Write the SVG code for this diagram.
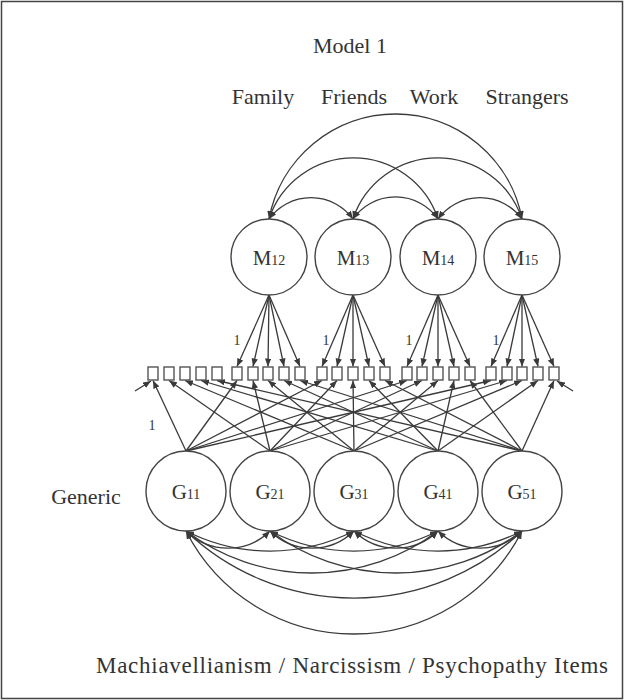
<svg xmlns="http://www.w3.org/2000/svg" width="624" height="700" viewBox="0 0 624 700">
  <style>
    .t { font-family: "Liberation Serif", "Times New Roman", serif; fill: #333; }
    .node { fill: #fff; stroke: #444; stroke-width: 1.4; }
    .item { fill: #fff; stroke: #555; stroke-width: 1.4; }
    .arr { fill: none; stroke: #3a3a3a; stroke-width: 1.3; marker-end: url(#ah); }
    .cov { fill: none; stroke: #3a3a3a; stroke-width: 1.3; marker-start: url(#ah); marker-end: url(#ah); }
  </style>
  <defs>
    <marker id="ah" viewBox="0 0 10 8" refX="10" refY="4" markerWidth="8" markerHeight="6.4" orient="auto-start-reverse" markerUnits="userSpaceOnUse">
      <path d="M0,0 L10,4 L0,8 z" fill="#3a3a3a"/>
    </marker>
  </defs>

  <rect x="1.5" y="1.5" width="621" height="697" fill="#fff" stroke="#444" stroke-width="1.5"/>

  <!-- titles -->
  <text class="t" x="350" y="53" font-size="22" text-anchor="middle">Model 1</text>
  <text class="t" x="263" y="104" font-size="22" text-anchor="middle">Family</text>
  <text class="t" x="354" y="104" font-size="22" text-anchor="middle">Friends</text>
  <text class="t" x="434" y="104" font-size="22" text-anchor="middle">Work</text>
  <text class="t" x="527" y="104" font-size="22" text-anchor="middle">Strangers</text>
  <text class="t" x="86" y="504" font-size="22" text-anchor="middle">Generic</text>
  <text class="t" x="96" y="673" font-size="23" textLength="512" lengthAdjust="spacing">Machiavellianism / Narcissism / Psychopathy Items</text>

  <!-- connectors -->
  <g id="connectors">
    <!-- covariances among method factors -->
    <path class="cov" d="M269,219 A52,52 0 0 1 353,219"/>
    <path class="cov" d="M353,219 A52,52 0 0 1 438,219"/>
    <path class="cov" d="M438,219 A52,52 0 0 1 522,219"/>
    <path class="cov" d="M269,219 A89,89 0 0 1 438,219"/>
    <path class="cov" d="M353,219 A89,89 0 0 1 522,219"/>
    <path class="cov" d="M269,219 A128.7,128.7 0 0 1 522,219"/>

    <!-- method loadings -->
    <path class="arr" d="M269,295 L237,366.5"/>
    <path class="arr" d="M269,295 L253,366.5"/>
    <path class="arr" d="M269,295 L268,366.5"/>
    <path class="arr" d="M269,295 L284,366.5"/>
    <path class="arr" d="M269,295 L300,366.5"/>
    <path class="arr" d="M353,295 L322,366.5"/>
    <path class="arr" d="M353,295 L337,366.5"/>
    <path class="arr" d="M353,295 L353,366.5"/>
    <path class="arr" d="M353,295 L369,366.5"/>
    <path class="arr" d="M353,295 L385,366.5"/>
    <path class="arr" d="M438,295 L407,366.5"/>
    <path class="arr" d="M438,295 L422,366.5"/>
    <path class="arr" d="M438,295 L438,366.5"/>
    <path class="arr" d="M438,295 L454,366.5"/>
    <path class="arr" d="M438,295 L470,366.5"/>
    <path class="arr" d="M522,295 L491,366.5"/>
    <path class="arr" d="M522,295 L507,366.5"/>
    <path class="arr" d="M522,295 L522,366.5"/>
    <path class="arr" d="M522,295 L538,366.5"/>
    <path class="arr" d="M522,295 L554,366.5"/>

    <!-- generic loadings -->
    <path class="arr" d="M186,451 L153,380.5"/>
    <path class="arr" d="M186,451 L237,380.5"/>
    <path class="arr" d="M186,451 L322,380.5"/>
    <path class="arr" d="M186,451 L407,380.5"/>
    <path class="arr" d="M186,451 L491,380.5"/>
    <path class="arr" d="M270,451 L169,380.5"/>
    <path class="arr" d="M270,451 L253,380.5"/>
    <path class="arr" d="M270,451 L337,380.5"/>
    <path class="arr" d="M270,451 L422,380.5"/>
    <path class="arr" d="M270,451 L507,380.5"/>
    <path class="arr" d="M354,451 L185,380.5"/>
    <path class="arr" d="M354,451 L268,380.5"/>
    <path class="arr" d="M354,451 L353,380.5"/>
    <path class="arr" d="M354,451 L438,380.5"/>
    <path class="arr" d="M354,451 L522,380.5"/>
    <path class="arr" d="M438,451 L201,380.5"/>
    <path class="arr" d="M438,451 L284,380.5"/>
    <path class="arr" d="M438,451 L369,380.5"/>
    <path class="arr" d="M438,451 L454,380.5"/>
    <path class="arr" d="M438,451 L538,380.5"/>
    <path class="arr" d="M522,451 L217,380.5"/>
    <path class="arr" d="M522,451 L300,380.5"/>
    <path class="arr" d="M522,451 L385,380.5"/>
    <path class="arr" d="M522,451 L470,380.5"/>
    <path class="arr" d="M522,451 L554,380.5"/>

    <!-- short end arrows -->
    <path class="arr" d="M135,391 L151,381"/>
    <path class="arr" d="M573,391 L557,381"/>

    <!-- covariances among generic factors -->
    <path class="cov" d="M186,531 A60,60 0 0 0 270,531"/>
    <path class="cov" d="M270,531 A60,60 0 0 0 354,531"/>
    <path class="cov" d="M354,531 A60,60 0 0 0 438,531"/>
    <path class="cov" d="M438,531 A60,60 0 0 0 522,531"/>
    <path class="cov" d="M186,531 A186,186 0 0 0 354,531"/>
    <path class="cov" d="M270,531 A186,186 0 0 0 438,531"/>
    <path class="cov" d="M354,531 A186,186 0 0 0 522,531"/>
    <path class="cov" d="M186,531 A210,210 0 0 0 438,531"/>
    <path class="cov" d="M270,531 A210,210 0 0 0 522,531"/>
    <path class="cov" d="M186,531 A244,244 0 0 0 522,531"/>
    <path class="cov" d="M186,531 A188.5,188.5 0 0 0 522,531"/>
  </g>

  <!-- loading labels -->
  <text class="t" x="237" y="345" font-size="14" text-anchor="middle">1</text>
  <text class="t" x="326" y="345" font-size="14" text-anchor="middle">1</text>
  <text class="t" x="409" y="345" font-size="14" text-anchor="middle">1</text>
  <text class="t" x="496" y="345" font-size="14" text-anchor="middle">1</text>
  <text class="t" x="152" y="430" font-size="14" text-anchor="middle">1</text>

  <!-- observed items -->
  <g id="items">
    <rect class="item" x="148" y="367" width="10" height="13"/>
    <rect class="item" x="164" y="367" width="10" height="13"/>
    <rect class="item" x="180" y="367" width="10" height="13"/>
    <rect class="item" x="196" y="367" width="10" height="13"/>
    <rect class="item" x="212" y="367" width="10" height="13"/>
    <rect class="item" x="232" y="367" width="10" height="13"/>
    <rect class="item" x="248" y="367" width="10" height="13"/>
    <rect class="item" x="263" y="367" width="10" height="13"/>
    <rect class="item" x="279" y="367" width="10" height="13"/>
    <rect class="item" x="295" y="367" width="10" height="13"/>
    <rect class="item" x="317" y="367" width="10" height="13"/>
    <rect class="item" x="332" y="367" width="10" height="13"/>
    <rect class="item" x="348" y="367" width="10" height="13"/>
    <rect class="item" x="364" y="367" width="10" height="13"/>
    <rect class="item" x="380" y="367" width="10" height="13"/>
    <rect class="item" x="402" y="367" width="10" height="13"/>
    <rect class="item" x="417" y="367" width="10" height="13"/>
    <rect class="item" x="433" y="367" width="10" height="13"/>
    <rect class="item" x="449" y="367" width="10" height="13"/>
    <rect class="item" x="465" y="367" width="10" height="13"/>
    <rect class="item" x="486" y="367" width="10" height="13"/>
    <rect class="item" x="502" y="367" width="10" height="13"/>
    <rect class="item" x="517" y="367" width="10" height="13"/>
    <rect class="item" x="533" y="367" width="10" height="13"/>
    <rect class="item" x="549" y="367" width="10" height="13"/>
  </g>

  <!-- method factors -->
  <g id="M12"><circle class="node" cx="269" cy="257" r="38"/><text class="t" x="269" y="265" font-size="21" text-anchor="middle">M<tspan font-size="14">12</tspan></text></g>
  <g id="M13"><circle class="node" cx="353" cy="257" r="38"/><text class="t" x="353" y="265" font-size="21" text-anchor="middle">M<tspan font-size="14">13</tspan></text></g>
  <g id="M14"><circle class="node" cx="438" cy="257" r="38"/><text class="t" x="438" y="265" font-size="21" text-anchor="middle">M<tspan font-size="14">14</tspan></text></g>
  <g id="M15"><circle class="node" cx="522" cy="257" r="38"/><text class="t" x="522" y="265" font-size="21" text-anchor="middle">M<tspan font-size="14">15</tspan></text></g>

  <!-- generic factors -->
  <g id="G11"><circle class="node" cx="186" cy="491" r="40"/><text class="t" x="186" y="499" font-size="21" text-anchor="middle">G<tspan font-size="14">11</tspan></text></g>
  <g id="G21"><circle class="node" cx="270" cy="491" r="40"/><text class="t" x="270" y="499" font-size="21" text-anchor="middle">G<tspan font-size="14">21</tspan></text></g>
  <g id="G31"><circle class="node" cx="354" cy="491" r="40"/><text class="t" x="354" y="499" font-size="21" text-anchor="middle">G<tspan font-size="14">31</tspan></text></g>
  <g id="G41"><circle class="node" cx="438" cy="491" r="40"/><text class="t" x="438" y="499" font-size="21" text-anchor="middle">G<tspan font-size="14">41</tspan></text></g>
  <g id="G51"><circle class="node" cx="522" cy="491" r="40"/><text class="t" x="522" y="499" font-size="21" text-anchor="middle">G<tspan font-size="14">51</tspan></text></g>
</svg>
